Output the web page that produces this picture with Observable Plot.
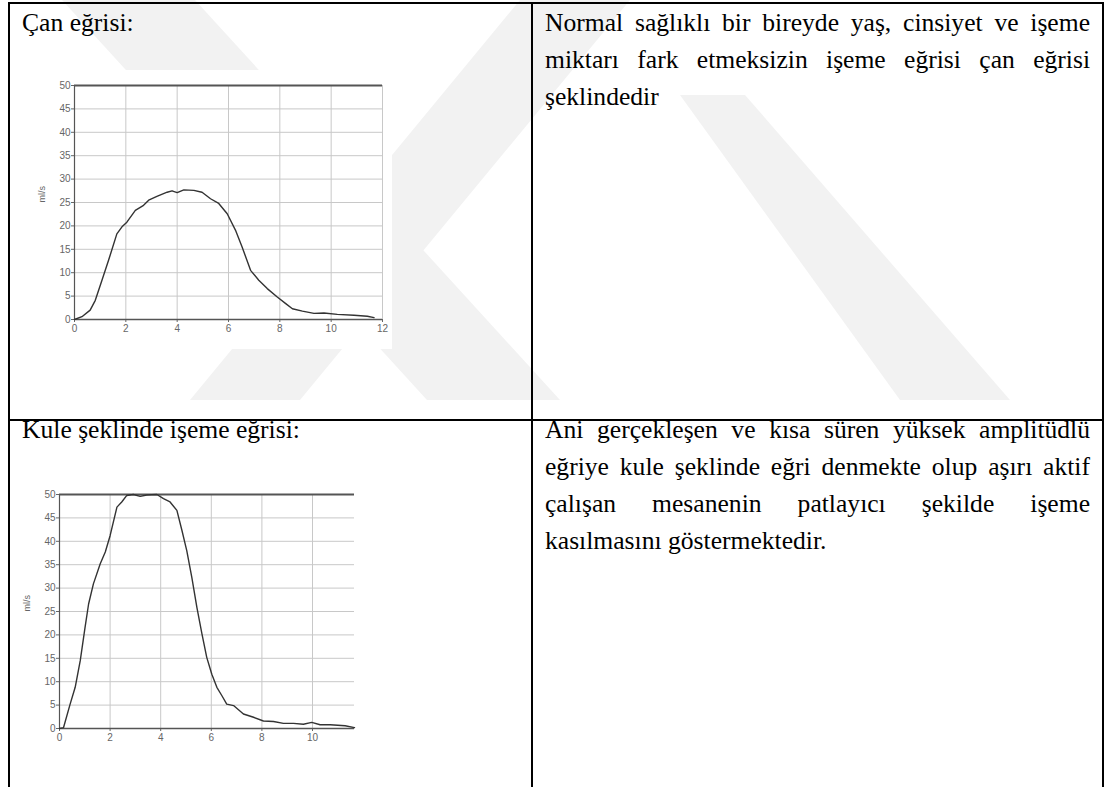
<!DOCTYPE html>
<html>
<head>
<meta charset="utf-8">
<script src="https://cdn.jsdelivr.net/npm/d3@7"></script>
<script src="https://cdn.jsdelivr.net/npm/@observablehq/plot@0.6"></script>
<style>
  html, body { margin: 0; padding: 0; background: #fff; }
  body { width: 1105px; height: 787px; position: relative; overflow: hidden; color: #000; }
  .abs { position: absolute; }
  .vline { position: absolute; width: 2px; background: #000; }
  .hline { position: absolute; height: 2px; background: #000; }
  .serif { font-family: "Liberation Serif", Tinos, "Times New Roman", Times, "DejaVu Serif", serif; }
  .txt { position: absolute; font-size: 25.6px; line-height: 37px; white-space: nowrap; }
  .para { position: absolute; left: 545px; width: 545px; font-size: 25.6px; line-height: 37px; }
  .para div { text-align: justify; text-align-last: justify; white-space: nowrap; }
  .para div.last { text-align-last: left; }
  .chart { position: absolute; background: #fff; }
  .chart svg { display: block; overflow: hidden; }
</style>
</head>
<body>
<svg class="abs" style="left:0;top:0" width="1105" height="787">
  <g fill="#f2f2f2">
    <polygon points="62,0 195,0 560,400 427,400"/>
    <polygon points="520,0 630,0 300,400 190,400"/>
    <polygon points="680,95 745,95 1010,400 900,400"/>
  </g>
</svg>

<div id="chart1" class="chart" style="left:30px;top:70px"></div>
<div id="chart2" class="chart" style="left:15px;top:480px"></div>

<!-- table borders -->
<div class="hline" style="left:8px;top:2px;width:1096px"></div>
<div class="hline" style="left:8px;top:419px;width:1096px"></div>
<div class="vline" style="left:8px;top:2px;height:785px"></div>
<div class="vline" style="left:531px;top:2px;height:785px"></div>
<div class="vline" style="left:1102px;top:2px;height:785px"></div>

<div id="label1" class="txt serif" style="left:22px;top:4px"></div>
<div id="label2" class="txt serif" style="left:22px;top:411px"></div>
<div id="para1" class="para serif" style="top:4px"></div>
<div id="para2" class="para serif" style="top:411px"></div>

<script>
// ---- data ----
const labels = ["Çan eğrisi:", "Kule şeklinde işeme eğrisi:"];
const para1Lines = [
  "Normal sağlıklı bir bireyde yaş, cinsiyet ve işeme",
  "miktarı fark etmeksizin işeme eğrisi çan eğrisi",
  "şeklindedir"
];
const para2Lines = [
  "Ani gerçekleşen ve kısa süren yüksek amplitüdlü",
  "eğriye kule şeklinde eğri denmekte olup aşırı aktif",
  "çalışan mesanenin patlayıcı şekilde işeme",
  "kasılmasını göstermektedir."
];
const yLabel = "ml/s";
const yTicks = [0, 5, 10, 15, 20, 25, 30, 35, 40, 45, 50];
const xTicks1 = [0, 2, 4, 6, 8, 10, 12];
const xTicks2 = [0, 2, 4, 6, 8, 10];

// Bell-shaped curve (time s, flow ml/s)
const bellT = [0, 0.29, 0.61, 0.81, 1.07, 1.33, 1.65, 1.85, 2.04, 2.37, 2.69, 2.89, 3.21, 3.61, 3.8, 4.0, 4.26, 4.65, 4.97, 5.3, 5.62, 5.95, 6.27, 6.53, 6.86, 7.18, 7.51, 7.9, 8.23, 8.49, 8.88, 9.33, 9.72, 10.24, 10.89, 11.41, 11.67];
const bellQ = [0, 0.6, 2.0, 4.1, 8.4, 12.7, 18.3, 19.8, 20.8, 23.3, 24.4, 25.5, 26.3, 27.2, 27.5, 27.1, 27.7, 27.6, 27.2, 25.8, 24.8, 22.6, 19.1, 15.5, 10.5, 8.4, 6.6, 4.8, 3.4, 2.3, 1.8, 1.3, 1.4, 1.1, 0.9, 0.7, 0.4];

// Tower-shaped curve
const towerT = [0, 0.16, 0.42, 0.62, 0.82, 1.01, 1.15, 1.34, 1.61, 1.81, 2.0, 2.27, 2.46, 2.66, 2.92, 3.19, 3.45, 3.85, 4.11, 4.37, 4.64, 4.84, 5.03, 5.23, 5.43, 5.63, 5.82, 6.02, 6.22, 6.42, 6.61, 6.88, 7.27, 7.67, 8.06, 8.46, 8.85, 9.25, 9.64, 9.97, 10.3, 10.7, 11.29, 11.66];
const towerQ = [0, 0.2, 5.2, 8.8, 14.5, 21.6, 26.6, 30.9, 35.2, 37.7, 41.2, 47.3, 48.4, 49.8, 50, 49.6, 49.9, 50, 49.1, 48.4, 46.6, 42.3, 38.0, 32.3, 25.9, 20.2, 15.2, 11.6, 8.8, 7.0, 5.2, 4.9, 3.1, 2.4, 1.6, 1.5, 1.1, 1.1, 0.9, 1.3, 0.8, 0.8, 0.6, 0.2];

// ---- text ----
document.getElementById("label1").textContent = labels[0];
document.getElementById("label2").textContent = labels[1];
function fillPara(id, lines) {
  const el = document.getElementById(id);
  lines.forEach((l, i) => {
    const d = document.createElement("div");
    d.textContent = l;
    if (i === lines.length - 1) d.className = "last";
    el.appendChild(d);
  });
}
fillPara("para1", para1Lines);
fillPara("para2", para2Lines);

// ---- charts ----
function flowChart({t, q, xMax, xTicks, width, height, marginLeft, marginRight, marginTop, marginBottom}) {
  const data = t.map((v, i) => ({t: v, q: q[i]}));
  return Plot.plot({
    width, height, marginLeft, marginRight, marginTop, marginBottom,
    style: {fontFamily: "Arial, 'Liberation Sans', sans-serif", fontSize: "10px", color: "#666", background: "#fff", overflow: "hidden"},
    x: {domain: [0, xMax], label: null},
    y: {domain: [0, 50], label: null},
    marks: [
      Plot.gridX(xTicks, {stroke: "#c8c8c8", strokeOpacity: 1}),
      Plot.gridY(yTicks, {stroke: "#c8c8c8", strokeOpacity: 1}),
      Plot.axisX({ticks: xTicks, tickSize: 3, tickPadding: 2, stroke: "#666", fill: "#666", label: null, fontSize: 10}),
      Plot.axisY({ticks: yTicks, tickSize: 3, tickPadding: 1, stroke: "#666", fill: "#666", label: null, fontSize: 10}),
      Plot.text([yLabel], {frameAnchor: "left", dx: -32, rotate: -90, fill: "#666", fontSize: 9}),
      Plot.ruleY([50], {stroke: "#555", strokeWidth: 2}),
      Plot.ruleY([0], {stroke: "#555", strokeWidth: 1.5}),
      Plot.ruleX([0], {stroke: "#555", strokeWidth: 1.2}),
      Plot.line(data, {x: "t", y: "q", stroke: "#333", strokeWidth: 1.4, curve: "linear"})
    ]
  });
}

document.getElementById("chart1").appendChild(flowChart({
  t: bellT, q: bellQ, xMax: 12, xTicks: xTicks1,
  width: 362, height: 279, marginLeft: 44, marginRight: 10, marginTop: 15, marginBottom: 30
}));
document.getElementById("chart2").appendChild(flowChart({
  t: towerT, q: towerQ, xMax: 11.66, xTicks: xTicks2,
  width: 343, height: 276, marginLeft: 44, marginRight: 4, marginTop: 14, marginBottom: 28
}));
</script>
</body>
</html>
